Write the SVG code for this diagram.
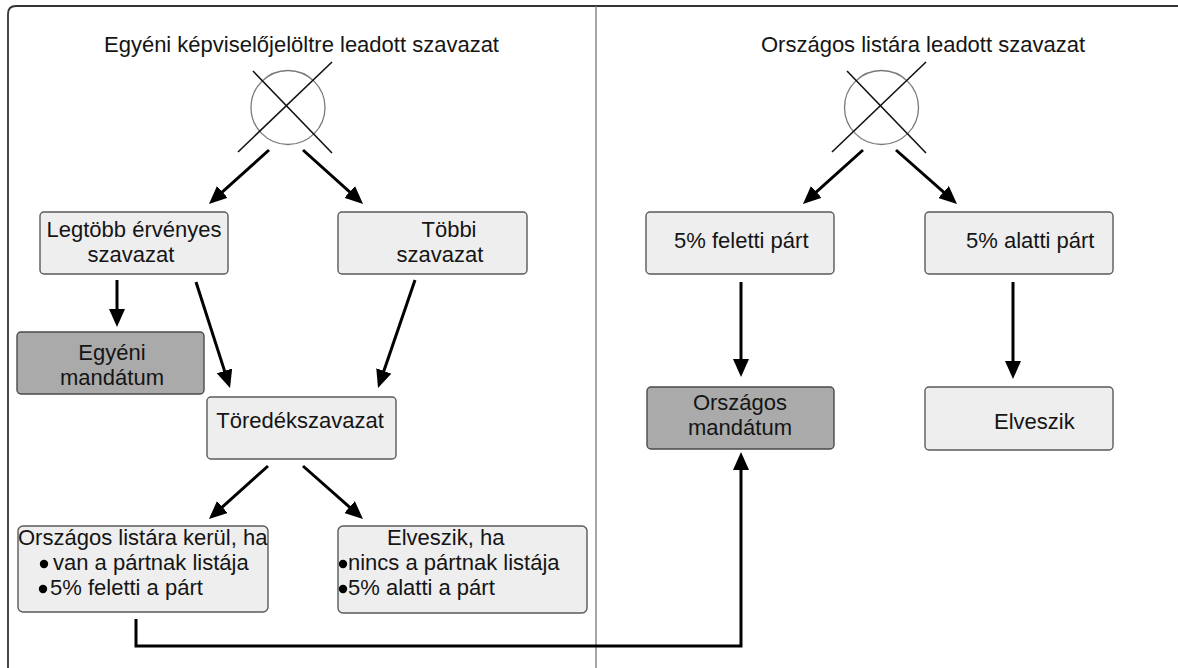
<svg xmlns="http://www.w3.org/2000/svg" width="1178" height="668" viewBox="0 0 1178 668">
<defs>
<marker id="ah" markerUnits="userSpaceOnUse" viewBox="0 0 18 16" refX="10" refY="8" markerWidth="18" markerHeight="16" orient="auto">
<path d="M0,0 L18,8 L0,16 z" fill="#000"/>
</marker>
<style>
.t{font-family:"Liberation Sans",Arial,sans-serif;font-size:22px;fill:#151515}
.box{fill:#eeeeee;stroke:#5a5a5a;stroke-width:1.4}
.dark{fill:#aaaaaa;stroke:#4a4a4a;stroke-width:1.4}
.ar{stroke:#000;stroke-width:3;fill:none;marker-end:url(#ah)}
.x{stroke:#111;stroke-width:1.6}
.c{fill:none;stroke:#7a7a7a;stroke-width:1.3}
</style>
</defs>
<rect width="1178" height="668" fill="#fff"/>
<g id="frame">
<path d="M8,668 V14 Q8,6 16,6 H1178" fill="none" stroke="#333" stroke-width="1.8"/>
<line x1="596" y1="6" x2="596" y2="668" stroke="#777" stroke-width="1.3"/>
</g>
<g id="title-left"><text class="t" x="301.5" y="52" text-anchor="middle">Egyéni képviselőjelöltre leadott szavazat</text></g>
<g id="title-right"><text class="t" x="923" y="52" text-anchor="middle">Országos listára leadott szavazat</text></g>
<g id="ballot-left">
<circle class="c" cx="288" cy="107.5" r="37"/>
<line class="x" x1="253" y1="71" x2="332" y2="153"/>
<line class="x" x1="332" y1="62" x2="238" y2="152"/>
</g>
<g id="ballot-right">
<circle class="c" cx="881.5" cy="107.5" r="37"/>
<line class="x" x1="847" y1="71" x2="926" y2="153"/>
<line class="x" x1="926" y1="62" x2="832" y2="152"/>
</g>
<g id="legtobb">
<rect class="box" x="40" y="212" width="188" height="62" rx="4"/>
<text class="t" text-anchor="middle"><tspan x="134" y="237">Legtöbb érvényes</tspan><tspan x="131" y="262">szavazat</tspan></text>
</g>
<g id="tobbi">
<rect class="box" x="338" y="212" width="189" height="62" rx="4"/>
<text class="t" text-anchor="middle"><tspan x="449" y="237">Többi</tspan><tspan x="440" y="262">szavazat</tspan></text>
</g>
<g id="egyeni-mandatum">
<rect class="dark" x="17" y="332" width="187" height="62" rx="4"/>
<text class="t" text-anchor="middle"><tspan x="112" y="360">Egyéni</tspan><tspan x="112" y="385">mandátum</tspan></text>
</g>
<g id="toredek">
<rect class="box" x="207" y="397" width="189" height="62" rx="4"/>
<text class="t" x="300" y="428" text-anchor="middle">Töredékszavazat</text>
</g>
<g id="orszagos-listara-kerul">
<rect class="box" x="18" y="526" width="250" height="86" rx="5"/>
<circle cx="44" cy="564" r="4.2" fill="#000"/>
<circle cx="43" cy="589" r="4.2" fill="#000"/>
<text class="t"><tspan x="18" y="545">Országos listára kerül, ha</tspan><tspan x="53" y="570">van a pártnak listája</tspan><tspan x="50" y="595">5% feletti  a párt</tspan></text>
</g>
<g id="elveszik-ha">
<rect class="box" x="338" y="526" width="249" height="87" rx="5"/>
<circle cx="343" cy="564" r="4.2" fill="#000"/>
<circle cx="343" cy="589" r="4.2" fill="#000"/>
<text class="t"><tspan x="387" y="545">Elveszik, ha</tspan><tspan x="348" y="570">nincs a pártnak listája</tspan><tspan x="348" y="595">5% alatti a párt</tspan></text>
</g>
<g id="feletti-part">
<rect class="box" x="646" y="212" width="188" height="62" rx="4"/>
<text class="t" x="674" y="248">5% feletti párt</text>
</g>
<g id="alatti-part">
<rect class="box" x="925" y="212" width="188" height="62" rx="4"/>
<text class="t" x="966" y="248">5% alatti párt</text>
</g>
<g id="orszagos-mandatum">
<rect class="dark" x="647" y="387" width="187" height="62" rx="4"/>
<text class="t" text-anchor="middle"><tspan x="740" y="410">Országos</tspan><tspan x="740" y="435">mandátum</tspan></text>
</g>
<g id="elveszik">
<rect class="box" x="925" y="387" width="188" height="63" rx="4"/>
<text class="t" x="994" y="429">Elveszik</text>
</g>
<g id="connectors">
<line class="ar" x1="269" y1="150" x2="214.9" y2="198.6"/>
<line class="ar" x1="303" y1="150" x2="357.1" y2="198.6"/>
<line class="ar" x1="863" y1="150" x2="808.9" y2="198.6"/>
<line class="ar" x1="896" y1="150" x2="951" y2="198.7"/>
<line class="ar" x1="117" y1="280" x2="117" y2="319"/>
<line class="ar" x1="196" y1="282" x2="227.6" y2="380.4"/>
<line class="ar" x1="415" y1="280" x2="380.6" y2="380.4"/>
<line class="ar" x1="268" y1="466" x2="214.9" y2="513.7"/>
<line class="ar" x1="303" y1="466" x2="357" y2="513.7"/>
<line class="ar" x1="741" y1="282" x2="741" y2="369"/>
<line class="ar" x1="1013" y1="282" x2="1013" y2="371"/>
<path class="ar" d="M136,619 V646 H741 V460"/>
</g>
</svg>
